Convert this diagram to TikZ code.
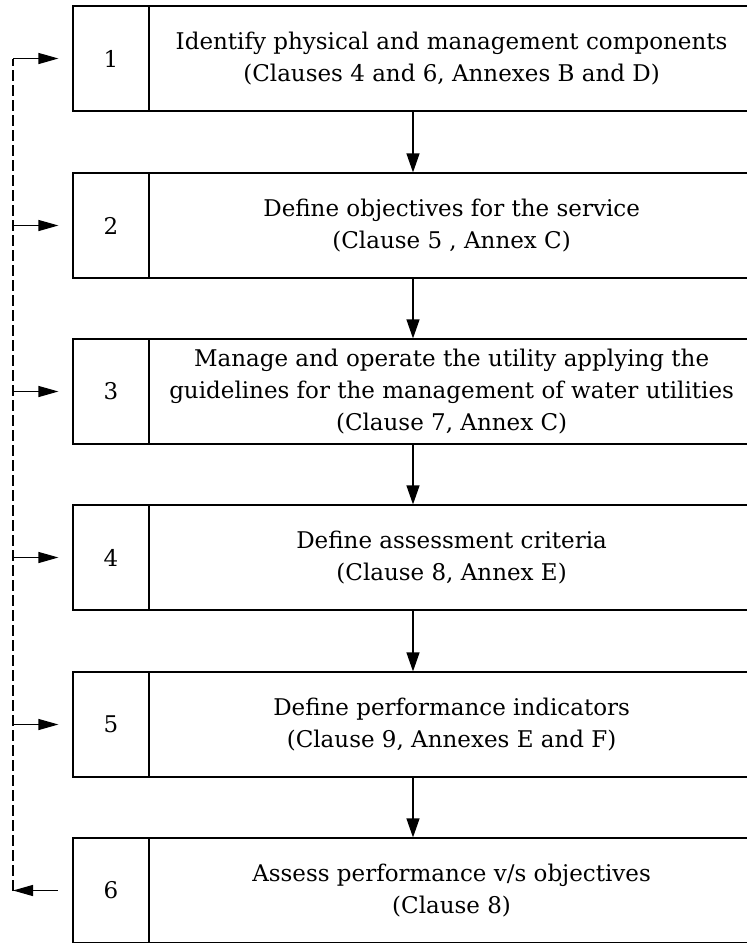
\documentclass[tikz,border=0pt]{standalone}
\usepackage{fontspec}
\setmainfont{DejaVu Serif}
\usepackage{tikz}
\usetikzlibrary{positioning,arrows.meta,calc}
\tikzset{
  stepbox/.style={draw, line width=1.2pt, minimum width=680pt, minimum height=105pt,
    inner sep=0pt},
  stepnum/.style={draw, line width=1.2pt, minimum width=76pt, minimum height=105pt,
    inner sep=0pt, font=\fontsize{23}{32}\selectfont},
  steptext/.style={align=center, font=\fontsize{23}{32}\selectfont},
  steparrow/.style={-{Triangle[length=19pt, width=13pt]}, line width=1.2pt},
  backarrow/.style={-{Triangle[length=20pt, width=11pt]}, line width=1.2pt},
  backline/.style={line width=1.2pt, dash pattern=on 11pt off 4pt},
}

\begin{document}
\begin{tikzpicture}[x=1pt, y=-1pt]
  \useasboundingbox (0,0) rectangle (747,943);
  \clip (0,0) rectangle (747,943);
  % the six steps
  \node[stepbox] (s1) at (413,58.5) {};
  \node[stepbox] (s2) at (413,225.5) {};
  \node[stepbox] (s3) at (413,391.5) {};
  \node[stepbox] (s4) at (413,557.5) {};
  \node[stepbox] (s5) at (413,724.5) {};
  \node[stepbox] (s6) at (413,890.5) {};
  \foreach \i in {1,...,6}{
    \node[stepnum, anchor=west] (n\i) at (s\i.west) {\i};
  }
  \node[steptext] (t1) at ($(n1.east)!0.5!(s1.east)$) {Identify physical and management components\\(Clauses 4 and 6, Annexes B and D)};
  \node[steptext] (t2) at ($(n2.east)!0.5!(s2.east)$) {Define objectives for the service\\(Clause 5 , Annex C)};
  \node[steptext] (t3) at ($(n3.east)!0.5!(s3.east)$) {Manage and operate the utility applying the\\guidelines for the management of water utilities\\(Clause 7, Annex C)};
  \node[steptext] (t4) at ($(n4.east)!0.5!(s4.east)$) {Define assessment criteria\\(Clause 8, Annex E)};
  \node[steptext] (t5) at ($(n5.east)!0.5!(s5.east)$) {Define performance indicators\\(Clause 9, Annexes E and F)};
  \node[steptext] (t6) at ($(n6.east)!0.5!(s6.east)$) {Assess performance v/s objectives\\(Clause 8)};
  % main flow
  \foreach \a/\b in {1/2,2/3,3/4,4/5,5/6}{
    \draw[steparrow] (s\a.south) -- (s\b.north);
  }
  % feedback loop
  \coordinate (rail) at (13,0);
  \draw[backline] (s6.west -| rail) -- (s1.west -| rail);
  \draw[backarrow, shorten <=0.6pt] (s6.west) ++(-14,0) -- (s6.west -| rail);
  \foreach \i in {1,...,5}{
    \draw[backarrow, shorten >=14pt] (s\i.west -| rail) -- (s\i.west);
  }
\end{tikzpicture}
\end{document}
